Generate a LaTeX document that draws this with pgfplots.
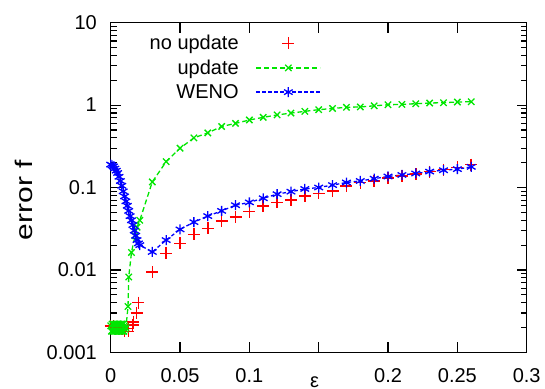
\documentclass[border=0pt]{standalone}
\usepackage{fontspec}
\setmainfont{Liberation Sans}
\usepackage{pgfplots}
\pgfplotsset{compat=1.18}
\definecolor{gpred}{RGB}{255,0,0}
\definecolor{gpgreen}{RGB}{0,230,0}
\definecolor{gpblue}{RGB}{0,0,255}
\newcommand{\tfont}{\fontsize{20bp}{24bp}\selectfont}
\pgfplotsset{
  gplegend/.style={legend image code/.code={\draw[mark repeat=2,mark phase=2,##1] plot coordinates {(0bp,0bp)(32bp,0bp)(64bp,0bp)};}}
}
\begin{document}
\begin{tikzpicture}
\begin{axis}[
  at={(0,0)}, anchor=south west,
  scale only axis, width=416bp, height=329.6bp,
  ymode=log, ymin=0.001, ymax=10,
  xmin=0, xmax=0.3,
  xtick={0,0.05,0.1,0.15,0.2,0.25,0.3},
  xticklabels={0,0.05,0.1,,0.2,0.25,0.3},
  ytick={0.001,0.01,0.1,1,10},
  yticklabels={0.001,0.01,0.1,1,10},
  minor ytick={0.002,0.003,0.004,0.005,0.006,0.007,0.008,0.009,0.02,0.03,0.04,0.05,0.06,0.07,0.08,0.09,0.2,0.3,0.4,0.5,0.6,0.7,0.8,0.9,2,3,4,5,6,7,8,9},
  tick pos=both, tick align=inside,
  major tick length=10bp, minor tick length=6bp,
  every tick/.style={black, line width=1.2bp},
  axis line style={line width=1.2bp},
  xticklabel style={font=\tfont, inner sep=0pt, anchor=north, yshift=-15.7bp},
  yticklabel style={font=\tfont, inner sep=0pt, anchor=east, xshift=-13.7bp},
  legend style={draw=none, fill=none, at={(axis description cs:0.506,0.968)}, anchor=north east,
    legend cell align=right, font=\tfont, row sep=4.5bp, column sep=15bp, inner sep=0pt},
  legend plot pos=right,
  clip=false,
]
\addplot[only marks, gplegend, color=gpred, mark=+, mark size=6bp, line width=1.5bp] coordinates {
(0,0.0021) (0.002,0.0021) (0.004,0.002) (0.006,0.002) (0.008,0.0019) (0.010,0.0018)
(0.0127,0.0018) (0.0127,0.00194) (0.0158,0.00215) (0.0163,0.00234) (0.0187,0.0030) (0.0199,0.0040)
(0.03,0.0094) (0.04,0.0159) (0.05,0.021) (0.06,0.027) (0.07,0.032) (0.08,0.039) (0.09,0.044)
(0.10,0.051) (0.11,0.060) (0.12,0.066) (0.13,0.071) (0.14,0.079) (0.15,0.085) (0.16,0.091)
(0.17,0.105) (0.18,0.115) (0.19,0.12) (0.20,0.13) (0.21,0.138) (0.22,0.145) (0.23,0.156)
(0.24,0.165) (0.25,0.175) (0.26,0.19)
};
\addlegendentry{no update}
\addplot[gplegend, color=gpgreen, mark=x, mark size=4.5bp, line width=1.3bp, dash pattern=on 5bp off 3bp,
  mark options={solid}] coordinates {
(0,0.0021) (0.0005,0.0018) (0.001,0.0022) (0.0015,0.0018) (0.002,0.0022) (0.0025,0.0018)
(0.003,0.0022) (0.0035,0.0018) (0.004,0.0022) (0.0045,0.0018) (0.005,0.0022) (0.0055,0.0018)
(0.006,0.0022) (0.0065,0.0018) (0.007,0.0022) (0.0075,0.0018) (0.008,0.0022) (0.0085,0.0018)
(0.009,0.0022) (0.0095,0.0018) (0.010,0.0021) (0.0105,0.0019) (0.011,0.0020)
(0.0125,0.0036) (0.013,0.0082) (0.015,0.0163) (0.0175,0.026) (0.019,0.033) (0.021,0.040)
(0.03,0.117) (0.04,0.206) (0.05,0.30) (0.06,0.40) (0.07,0.46) (0.08,0.55) (0.09,0.60)
(0.10,0.66) (0.11,0.71) (0.12,0.76) (0.13,0.80) (0.14,0.84) (0.15,0.88) (0.16,0.91)
(0.17,0.94) (0.18,0.95) (0.19,0.98) (0.20,1.01) (0.21,1.02) (0.22,1.04) (0.23,1.06)
(0.24,1.07) (0.25,1.09) (0.26,1.10)
};
\addlegendentry{update}
\addplot[gplegend, color=gpblue, mark=asterisk, mark size=5bp, line width=1.3bp, dash pattern=on 3.5bp off 2.5bp,
  mark options={solid}] coordinates {
(0,0.19) (0.001,0.185) (0.002,0.18) (0.003,0.17) (0.004,0.16) (0.005,0.15) (0.006,0.135)
(0.007,0.12) (0.008,0.105) (0.009,0.09) (0.010,0.078) (0.011,0.068) (0.012,0.06) (0.013,0.052)
(0.014,0.045) (0.015,0.04) (0.016,0.035) (0.017,0.03) (0.018,0.026) (0.019,0.023) (0.020,0.021)
(0.021,0.020) (0.03,0.0165) (0.04,0.023) (0.05,0.031) (0.06,0.038) (0.07,0.045) (0.08,0.052)
(0.09,0.061) (0.10,0.066) (0.11,0.074) (0.12,0.083) (0.13,0.089) (0.14,0.096) (0.15,0.10)
(0.16,0.107) (0.17,0.115) (0.18,0.12) (0.19,0.128) (0.20,0.136) (0.21,0.142) (0.22,0.148)
(0.23,0.156) (0.24,0.162) (0.25,0.167) (0.26,0.178)
};
\addlegendentry{WENO}
\node[rotate=90, anchor=base, inner sep=0pt, font=\fontsize{24bp}{28bp}\selectfont]
  at (axis description cs:-0.1868,0.462) {\scalebox{1.25}[1]{error f}};
\node[anchor=base, inner sep=0pt, font=\tfont] at (axis description cs:0.49,-0.106) {ε};
\end{axis}
\pgfresetboundingbox
\path[use as bounding box] (-110.7bp,-36.7bp) rectangle (434.3bp,352.3bp);
\end{tikzpicture}
\end{document}
